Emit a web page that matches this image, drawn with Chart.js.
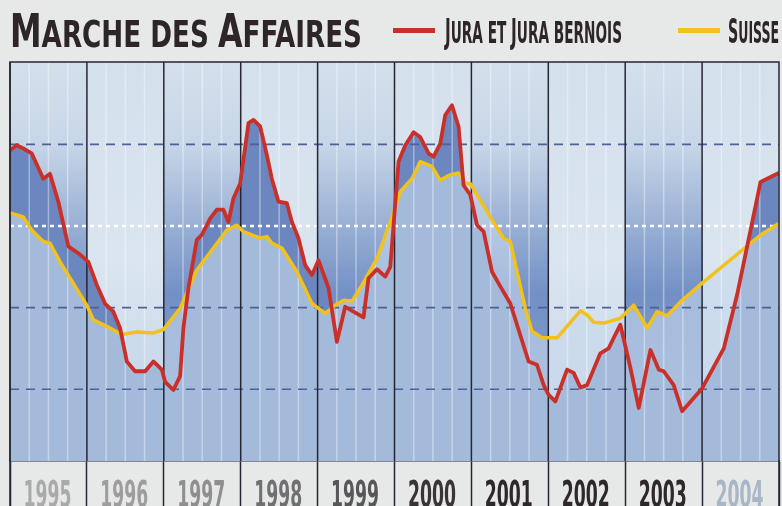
<!DOCTYPE html>
<html lang="fr">
<head>
<meta charset="utf-8">
<title>Marche des affaires</title>
<script src="https://cdn.jsdelivr.net/npm/chart.js@4.4.0/dist/chart.umd.min.js"></script>
<style>
  html, body { margin: 0; padding: 0; background: #e7e9e8; }
  #cadre { position: relative; width: 782px; height: 506px; overflow: hidden; }
  #graphique { position: absolute; left: 0; top: 0; }
  .texte {
    position: absolute; white-space: nowrap; display: inline-block;
    font-family: "Liberation Sans Narrow", "DejaVu Sans Condensed", "Liberation Sans", sans-serif;
    font-weight: bold; color: #2d2528; transform-origin: 0 0;
  }
  #titre { left: 10px; top: 8px; font-size: 46px; line-height: 46px; }
  #titre .p { font-size: 38px; }
  .leg { top: 14px; font-size: 34px; line-height: 34px; }
  .leg .p { font-size: 30px; }
  .trait { position: absolute; top: 28px; height: 5px; width: 42px; }
</style>
</head>
<body>
<div id="cadre">
  <canvas id="graphique" width="782" height="506"></canvas>
  <div id="titre" class="texte" data-largeur="352">M<span class="p">ARCHE DES </span>A<span class="p">FFAIRES</span></div>
  <div class="trait" style="left:393px;background:#c9302a"></div>
  <div class="texte leg" style="left:445px" data-largeur="177">J<span class="p">URA ET </span>J<span class="p">URA BERNOIS</span></div>
  <div class="trait" style="left:678px;background:#f1c21c"></div>
  <div class="texte leg" style="left:728px" data-largeur="51">S<span class="p">UISSE</span></div>
</div>
<script>
'use strict';
// annees affichees sous le graphique
const annees = [1995, 1996, 1997, 1998, 1999, 2000, 2001, 2002, 2003, 2004];

// Jura et Jura bernois (date decimale / valeur)
const dateJura = [1995.000, 1995.087, 1995.173, 1995.282, 1995.433, 1995.520, 1995.628, 1995.759, 1995.911,
  1996.019, 1996.128, 1996.236, 1996.344, 1996.431, 1996.519, 1996.627, 1996.757, 1996.865, 1996.974,
  1997.017, 1997.125, 1997.212, 1997.255, 1997.320, 1997.429, 1997.494, 1997.602, 1997.690, 1997.775, 1997.841, 1997.906, 1997.993,
  1998.101, 1998.166, 1998.253, 1998.340, 1998.405, 1998.491, 1998.600, 1998.666, 1998.751, 1998.839, 1998.926,
  1999.012, 1999.142, 1999.251, 1999.359, 1999.467, 1999.597, 1999.662, 1999.772, 1999.880, 1999.945,
  2000.053, 2000.140, 2000.248, 2000.335, 2000.443, 2000.508, 2000.595, 2000.660, 2000.747, 2000.833, 2000.898, 2000.986,
  2001.073, 2001.159, 2001.268, 2001.376, 2001.506, 2001.593, 2001.744, 2001.853, 2001.940,
  2002.005, 2002.092, 2002.244, 2002.330, 2002.417, 2002.504, 2002.677, 2002.785, 2002.872, 2002.937,
  2003.068, 2003.176, 2003.328, 2003.436, 2003.501, 2003.631, 2003.740,
  2004.000, 2004.282, 2004.456, 2004.760, 2004.997];
const jura = [9.3, 9.9, 9.5, 8.9, 5.8, 6.4, 3.0, -2.5, -3.5,
  -4.4, -7.2, -9.5, -10.5, -12.5, -16.6, -17.8, -17.8, -16.6, -17.6,
  -19.1, -20.1, -18.4, -12.5, -7.6, -1.7, -1.1, 0.9, 2.0, 2.0, 0.5, 3.4, 5.2,
  12.6, 13.0, 12.2, 8.7, 5.8, 3.0, 2.8, 0.5, -1.5, -4.8, -6.0,
  -4.2, -7.6, -14.2, -9.9, -10.5, -11.2, -6.4, -5.3, -6.2, -5.0,
  7.9, 9.9, 11.5, 10.9, 8.9, 8.5, 10.1, 13.6, 14.8, 12.2, 5.0, 3.8,
  0.1, -0.7, -5.6, -7.4, -9.5, -12.1, -16.6, -17.0, -19.5,
  -20.7, -21.5, -17.6, -18.0, -19.8, -19.5, -15.6, -15.0, -13.3, -12.1,
  -17.4, -22.3, -15.2, -17.6, -17.8, -19.5, -22.7,
  -19.9, -15.0, -8.4, 5.4, 6.5];

// Suisse (date decimale / valeur)
const dateSuisse = [1995.000, 1995.173, 1995.282, 1995.433, 1995.520, 1995.651, 1995.998,
  1996.084, 1996.258, 1996.453, 1996.649, 1996.865, 1996.995,
  1997.212, 1997.429, 1997.645, 1997.820, 1997.950,
  1998.036, 1998.253, 1998.340, 1998.405, 1998.535, 1998.731, 1998.926,
  1999.099, 1999.229, 1999.337, 1999.446, 1999.554, 1999.772, 1999.945,
  2000.075, 2000.227, 2000.335, 2000.487, 2000.595, 2000.703, 2000.833, 2000.920, 2000.986,
  2001.246, 2001.419, 2001.506, 2001.701, 2001.788, 2001.918,
  2002.114, 2002.417, 2002.504, 2002.590, 2002.720, 2002.937,
  2003.111, 2003.285, 2003.415, 2003.545, 2003.718,
  2004.000, 2004.760, 2004.997];
const suisse = [1.6, 1.1, -0.5, -1.9, -2.1, -4.4, -9.7,
  -11.5, -12.3, -13.3, -13.0, -13.1, -12.7,
  -10.1, -5.4, -2.7, -0.5, 0.1,
  -0.7, -1.5, -1.3, -2.1, -2.7, -5.6, -9.5,
  -10.7, -9.7, -9.1, -9.2, -7.6, -4.0, 0.5,
  4.2, 5.8, 7.9, 7.3, 5.6, 6.2, 6.5, 5.2, 5.2,
  1.1, -1.5, -1.9, -10.1, -12.9, -13.7,
  -13.7, -10.4, -10.9, -11.8, -11.9, -11.3,
  -9.7, -12.5, -10.5, -11.0, -9.3,
  -7.0, -1.1, 0.3];

// lignes de repere horizontales
const niveauxTirets = [10, -10, -20];
const niveauZero = 0;

const couleursAnnees = ['#aaaaab', '#9d9d9f', '#8f8f91', '#707073', '#57575a', '#3a3437', '#2e282b', '#2e282b', '#2e282b', '#a9b6c8'];

// mise a la largeur des textes de l'entete
document.querySelectorAll('[data-largeur]').forEach(el => {
  const w = el.getBoundingClientRect().width;
  el.style.transform = 'scaleX(' + (+el.dataset.largeur / w) + ')';
});

const pointsJura = dateJura.map((d, i) => ({x: d, y: jura[i]}));
const pointsSuisse = dateSuisse.map((d, i) => ({x: d, y: suisse[i]}));

const decor = {
  id: 'decor',
  beforeDraw(chart) {
    const {ctx, chartArea: ca, scales: {x}} = chart;
    ctx.save();
    annees.forEach(a => {
      const x0 = x.getPixelForValue(a);
      const x1 = x.getPixelForValue(a + 1);
      const g = ctx.createLinearGradient(0, ca.top, 0, ca.bottom);
      if (a % 2) {
        g.addColorStop(0, '#d3e0ec');
        g.addColorStop(0.2, '#c8d7e8');
        g.addColorStop(0.58, '#7390c5');
        g.addColorStop(1, '#8aa3cf');
      } else {
        g.addColorStop(0, '#d4e0ec');
        g.addColorStop(0.5, '#dae5ef');
        g.addColorStop(1, '#c3d3e6');
      }
      ctx.fillStyle = g;
      ctx.fillRect(x0, ca.top, x1 - x0, ca.bottom - ca.top);
    });
    ctx.restore();
  },
  afterDatasetDraw(chart, args) {
    if (args.index !== 2) return;
    const {ctx, chartArea: ca, scales: {x, y}} = chart;
    ctx.save();
    // traits des trimestres
    ctx.strokeStyle = 'rgba(255,255,255,0.38)';
    ctx.lineWidth = 1.5;
    annees.forEach(a => {
      [0.25, 0.5, 0.75].forEach(q => {
        const px = x.getPixelForValue(a + q);
        ctx.beginPath();
        ctx.moveTo(px, ca.top);
        ctx.lineTo(px, ca.bottom);
        ctx.stroke();
      });
    });
    // tirets bleus
    ctx.strokeStyle = '#4d6196';
    ctx.lineWidth = 1.6;
    ctx.setLineDash([9, 7]);
    niveauxTirets.forEach(v => {
      const py = y.getPixelForValue(v);
      ctx.beginPath();
      ctx.moveTo(ca.left, py);
      ctx.lineTo(ca.right, py);
      ctx.stroke();
    });
    // pointilles blancs
    ctx.strokeStyle = '#ffffff';
    ctx.lineWidth = 2.5;
    ctx.setLineDash([4, 4]);
    const p0 = y.getPixelForValue(niveauZero);
    ctx.beginPath();
    ctx.moveTo(ca.left, p0);
    ctx.lineTo(ca.right, p0);
    ctx.stroke();
    // separations des annees
    ctx.setLineDash([]);
    ctx.strokeStyle = '#262633';
    ctx.lineWidth = 1.5;
    annees.forEach(a => {
      const px = x.getPixelForValue(a);
      ctx.beginPath();
      ctx.moveTo(px, ca.top);
      ctx.lineTo(px, ca.bottom);
      ctx.stroke();
    });
    ctx.restore();
  },
  afterDraw(chart) {
    const {ctx, chartArea: ca, scales: {x}} = chart;
    ctx.save();
    ctx.strokeStyle = '#262633';
    ctx.lineWidth = 1.5;
    ctx.beginPath();
    ctx.moveTo(ca.left, chart.height);
    ctx.lineTo(ca.left, ca.top);
    ctx.lineTo(ca.right, ca.top);
    ctx.lineTo(ca.right, chart.height);
    ctx.stroke();
    // etiquettes des annees, en caracteres tres etroits
    ctx.font = 'bold 38px "DejaVu Sans Condensed", "DejaVu Sans", sans-serif';
    ctx.textAlign = 'center';
    ctx.textBaseline = 'alphabetic';
    x.ticks.forEach((t, i) => {
      const etiquette = t.label;
      const l = ctx.measureText(etiquette).width;
      ctx.save();
      ctx.translate(x.getPixelForTick(i) - 1, chart.height + 1);
      ctx.scale(48 / l, 1);
      ctx.fillStyle = couleursAnnees[i];
      ctx.fillText(etiquette, 0, 0);
      ctx.restore();
    });
    ctx.restore();
  }
};

new Chart(document.getElementById('graphique'), {
  type: 'line',
  data: {
    datasets: [
      {
        label: 'Jura et Jura bernois',
        data: pointsJura,
        borderColor: '#c9302a',
        borderWidth: 3.8,
        borderJoinStyle: 'round',
        pointRadius: 0,
        fill: false,
        order: 0
      },
      {
        label: 'Suisse',
        data: pointsSuisse,
        borderColor: '#f1c21c',
        borderWidth: 3.5,
        borderJoinStyle: 'round',
        pointRadius: 0,
        fill: false,
        order: 1
      },
      {
        label: 'ecart',
        data: pointsJura,
        borderColor: 'rgba(0,0,0,0)',
        pointRadius: 0,
        fill: {target: 1, above: 'rgba(62,92,168,0.55)', below: 'rgba(200,216,236,0.6)'},
        order: 3
      },
      {
        label: 'fond',
        data: pointsJura,
        borderColor: 'rgba(0,0,0,0)',
        pointRadius: 0,
        backgroundColor: '#a4badb',
        fill: 'start',
        order: 4
      }
    ]
  },
  options: {
    responsive: false,
    animation: false,
    layout: {padding: {top: 62, left: 10, right: 3, bottom: 0}},
    plugins: {
      legend: {display: false},
      tooltip: {enabled: false}
    },
    scales: {
      x: {
        type: 'linear',
        min: 1995,
        max: 2005,
        afterBuildTicks: axis => { axis.ticks = annees.map(a => ({value: a + 0.5})); },
        ticks: {
          display: false,
          autoSkip: false,
          callback: v => String(Math.floor(v))
        },
        grid: {offset: true, drawOnChartArea: false, drawTicks: true, tickLength: 45, tickColor: '#262633', tickWidth: 1.5},
        border: {display: true, color: '#262633', width: 1.5}
      },
      y: {
        display: false,
        min: -28.8,
        max: 20.1
      }
    }
  },
  plugins: [decor]
});
</script>
</body>
</html>
